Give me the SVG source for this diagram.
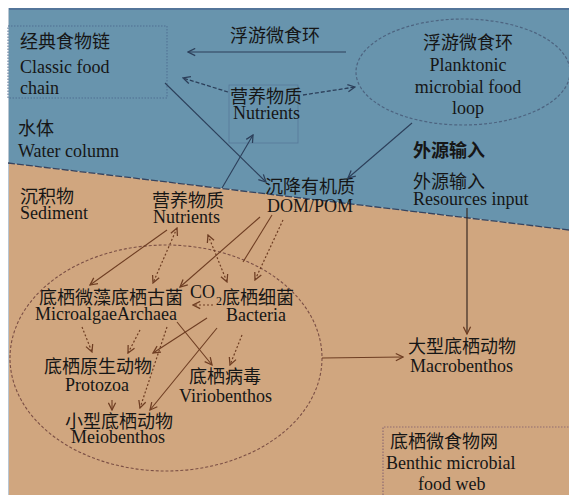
<svg xmlns="http://www.w3.org/2000/svg" width="569" height="495" viewBox="0 0 569 495">
<defs>
<style>
text{font-family:"Liberation Serif","Noto Sans CJK SC",serif;font-size:18px;fill:#161616}
.c{text-anchor:middle}
.b{font-weight:bold}
.wl{stroke:#2c3f5a;stroke-width:1.1;fill:none}
.wd{stroke:#2c3f5a;stroke-width:1.3;fill:none;stroke-dasharray:4,2}
.bl{stroke:#6e3d22;stroke-width:1.1;fill:none}
.bd{stroke:#6e3d22;stroke-width:1.2;fill:none;stroke-dasharray:2,2}
.box{fill:none;stroke:#4f6f92;stroke-width:1;stroke-dasharray:1.5,1.5}
</style>
<marker id="aw" viewBox="0 0 10 10" refX="9" refY="5" markerWidth="9" markerHeight="9" markerUnits="userSpaceOnUse" orient="auto-start-reverse"><path d="M1,1 L9,5 L1,9" fill="none" stroke="#2c3f5a" stroke-width="1.4"/></marker>
<marker id="ab" viewBox="0 0 10 10" refX="9" refY="5" markerWidth="9" markerHeight="9" markerUnits="userSpaceOnUse" orient="auto-start-reverse"><path d="M1,1 L9,5 L1,9" fill="none" stroke="#6e3d22" stroke-width="1.4"/></marker>
</defs>
<rect x="0" y="0" width="569" height="495" fill="#ffffff"/>
<polygon points="8,8 569,8 569,230 8,163" fill="#6894ad"/>
<polygon points="8,163 569,230 569,495 8,495" fill="#d0a67f"/>
<line x1="8" y1="9" x2="569" y2="9" stroke="#53759a" stroke-width="2"/>
<line x1="8.5" y1="8" x2="8.5" y2="495" stroke="#b9c6d2" stroke-width="1"/>
<line x1="8" y1="163" x2="569" y2="230" stroke="#36445f" stroke-width="1.3" stroke-dasharray="7,2"/>

<g id="water-column"><text x="18" y="135">水体</text><text x="18" y="157">Water column</text></g>
<g id="sediment"><text x="20" y="203">沉积物</text><text x="20" y="219">Sediment</text></g>

<g id="classic-food-chain">
<rect x="8" y="26" width="159" height="72" class="box"/>
<text x="20" y="48">经典食物链</text><text x="20" y="73">Classic food</text><text x="20" y="94">chain</text>
</g>
<g id="label-planktonic"><text x="230" y="42">浮游微食环</text></g>
<g id="water-nutrients">
<rect x="229" y="85" width="69" height="58" fill="none" stroke="#57799a" stroke-width="0.8"/>
<text x="230" y="103">营养物质</text><text x="233" y="119">Nutrients</text>
</g>
<g id="planktonic-loop">
<ellipse cx="463" cy="72" rx="107" ry="53" fill="none" stroke="#4d6480" stroke-width="1.2" stroke-dasharray="3,2"/>
<text class="c" x="468" y="49">浮游微食环</text><text class="c" x="468" y="71">Planktonic</text><text class="c" x="468" y="93">microbial food</text><text class="c" x="468" y="114">loop</text>
</g>
<g id="external-input-title"><text class="b" x="413" y="157">外源输入</text></g>
<g id="resources-input"><text x="413" y="188">外源输入</text><text x="413" y="205">Resources input</text></g>
<g id="sediment-nutrients"><text x="152" y="207">营养物质</text><text x="153" y="223">Nutrients</text></g>
<g id="dom-pom"><text x="265" y="193">沉降有机质</text><text x="267" y="212">DOM/POM</text></g>

<g id="benthic-ellipse"><ellipse cx="166" cy="358" rx="156" ry="113" fill="none" stroke="#7b4f45" stroke-width="1.1" stroke-dasharray="3,2"/></g>
<g id="microalgae-archaea"><text x="39" y="304">底栖微藻底栖古菌</text><text x="35" y="320">MicroalgaeArchaea</text></g>
<g id="co2"><text x="190" y="298">CO</text><text x="216" y="305" style="font-size:12px">2</text></g>
<g id="bacteria"><text x="222" y="304">底栖细菌</text><text x="226" y="321">Bacteria</text></g>
<g id="protozoa"><text x="44" y="373">底栖原生动物</text><text x="65" y="391">Protozoa</text></g>
<g id="meiobenthos"><text x="65" y="428">小型底栖动物</text><text x="71" y="443">Meiobenthos</text></g>
<g id="viriobenthos"><text x="189" y="383">底栖病毒</text><text x="179" y="402">Viriobenthos</text></g>
<g id="macrobenthos"><text x="408" y="353">大型底栖动物</text><text x="410" y="372">Macrobenthos</text></g>
<g id="benthic-web">
<path d="M383,495 L383,427 L569,427" fill="none" stroke="#8f6c72" stroke-width="1.2" stroke-dasharray="1.5,1.5"/>
<text x="390" y="448">底栖微食物网</text><text x="386" y="469">Benthic microbial</text><text x="418" y="490">food web</text>
</g>

<g id="connectors">
<line class="wl" x1="346" y1="52" x2="188" y2="52" marker-end="url(#aw)"/>
<line class="wd" x1="228" y1="92" x2="183" y2="78" marker-end="url(#aw)"/>
<line class="wd" x1="303" y1="95" x2="355" y2="87" marker-end="url(#aw)"/>
<line class="wl" x1="165" y1="83" x2="266" y2="182" marker-end="url(#aw)"/>
<line class="wl" x1="222" y1="188" x2="253" y2="135" marker-end="url(#aw)"/>
<line class="wl" x1="412" y1="123" x2="348" y2="178" marker-end="url(#aw)"/>
<line x1="467" y1="208" x2="467" y2="334" stroke="#3a2a22" stroke-width="1.2" marker-end="url(#ab)"/>
<line class="bl" x1="167" y1="230" x2="90" y2="285" marker-end="url(#ab)"/>
<line class="bd" x1="177" y1="228" x2="153" y2="283" marker-start="url(#ab)" marker-end="url(#ab)"/>
<line class="bd" x1="208" y1="235" x2="227" y2="282" marker-start="url(#ab)" marker-end="url(#ab)"/>
<line class="bl" x1="260" y1="217" x2="180" y2="287" marker-end="url(#ab)"/>
<line class="bl" x1="272" y1="215" x2="243" y2="262"/>
<line class="bd" x1="283" y1="220" x2="255" y2="280" marker-end="url(#ab)"/>
<line class="bd" x1="213" y1="305" x2="193" y2="305" stroke-dasharray="3,2" marker-end="url(#ab)"/>
<line class="bd" x1="82" y1="327" x2="92" y2="352" marker-end="url(#ab)"/>
<line class="bd" x1="140" y1="330" x2="128" y2="353" marker-end="url(#ab)"/>
<line class="bd" x1="167" y1="327" x2="140" y2="408" marker-end="url(#ab)"/>
<line class="bl" x1="207" y1="318" x2="153" y2="353" marker-end="url(#ab)"/>
<line class="bl" x1="177" y1="322" x2="212" y2="365" marker-end="url(#ab)"/>
<line class="bl" x1="217" y1="328" x2="150" y2="410" marker-end="url(#ab)"/>
<line class="bd" x1="242" y1="335" x2="230" y2="365" marker-end="url(#ab)"/>
<line class="bl" x1="112" y1="400" x2="112" y2="410" marker-end="url(#ab)"/>
<line class="bl" x1="322" y1="358" x2="403" y2="357" stroke-width="1.5" marker-end="url(#ab)"/>
</g>
</svg>
